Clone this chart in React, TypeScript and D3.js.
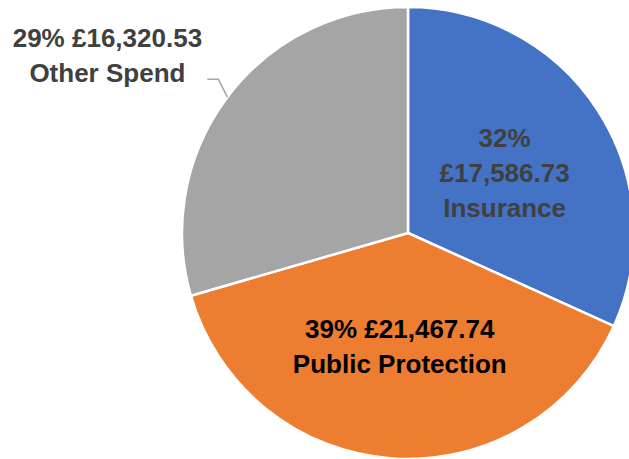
import React, { useEffect, useRef } from "react";
import * as d3 from "d3";

const categories = ["Insurance", "Public Protection", "Other Spend"];
const values = [17586.73, 21467.74, 16320.53];
const percentLabels = ["32%", "39%", "29%"];
const amountLabels = ["£17,586.73", "£21,467.74", "£16,320.53"];
const colors = ["#4472C4", "#ED7D31", "#A5A5A5"];

const WIDTH = 629;
const HEIGHT = 459;
const CX = 408;
const CY = 233;
const RADIUS = 226;
const FONT = "'Liberation Sans', Arial, sans-serif";

type Slice = { name: string; value: number; i: number };

export default function App() {
  const ref = useRef<SVGSVGElement>(null);

  useEffect(() => {
    if (!ref.current) return;
    const svg = d3.select(ref.current);
    svg.selectAll("*").remove();

    const data: Slice[] = categories.map((name, i) => ({ name, value: values[i], i }));

    const pie = d3
      .pie<Slice>()
      .sort(null)
      .value((d) => d.value);
    const arcs = pie(data);

    const arc = d3.arc<d3.PieArcDatum<Slice>>().innerRadius(0).outerRadius(RADIUS);
    const labelArc = d3.arc<d3.PieArcDatum<Slice>>().innerRadius(115).outerRadius(115);
    const edgeArc = d3.arc<d3.PieArcDatum<Slice>>().innerRadius(RADIUS).outerRadius(RADIUS);

    const g = svg.append("g").attr("transform", `translate(${CX},${CY})`);

    g.selectAll("path")
      .data(arcs)
      .enter()
      .append("path")
      .attr("d", arc)
      .attr("fill", (d) => colors[d.data.i])
      .attr("stroke", "#fff")
      .attr("stroke-width", 2.5)
      .attr("stroke-linejoin", "round");

    const text = (x: number, y: number, s: string, fill: string) =>
      g
        .append("text")
        .attr("x", x)
        .attr("y", y)
        .attr("text-anchor", "middle")
        .attr("font-family", FONT)
        .attr("font-weight", "bold")
        .attr("font-size", 26)
        .attr("fill", fill)
        .text(s);

    // Insurance: three lines inside
    {
      const [x, y] = labelArc.centroid(arcs[0]);
      text(x, y - 24, percentLabels[0], "#404040");
      text(x, y + 11, amountLabels[0], "#404040");
      text(x, y + 46, categories[0], "#404040");
    }

    // Public Protection: two lines inside
    {
      const [x, y] = labelArc.centroid(arcs[1]);
      text(x, y - 10, `${percentLabels[1]} ${amountLabels[1]}`, "#000");
      text(x, y + 25, categories[1], "#000");
    }

    // Other Spend: outside with leader line
    {
      const [x0, y0] = edgeArc.centroid(arcs[2]);
      const p1: [number, number] = [x0 - 9, y0 - 18];
      const p2: [number, number] = [p1[0] - 11, p1[1]];
      g.append("path")
        .attr("d", d3.line()([[x0, y0], p1, p2]))
        .attr("fill", "none")
        .attr("stroke", "#A5A5A5")
        .attr("stroke-width", 1.5);
      const tx = p2[0] - 100;
      text(tx, p2[1] - 32, `${percentLabels[2]} ${amountLabels[2]}`, "#404040");
      text(tx, p2[1] + 3, categories[2], "#404040");
    }
  }, []);

  return (
    <div
      style={{
        position: "absolute",
        left: 0,
        top: 0,
        width: WIDTH,
        height: HEIGHT,
        overflow: "hidden",
        background: "#fff",
      }}
    >
      <svg ref={ref} width={WIDTH} height={HEIGHT} style={{ display: "block" }} />
    </div>
  );
}
